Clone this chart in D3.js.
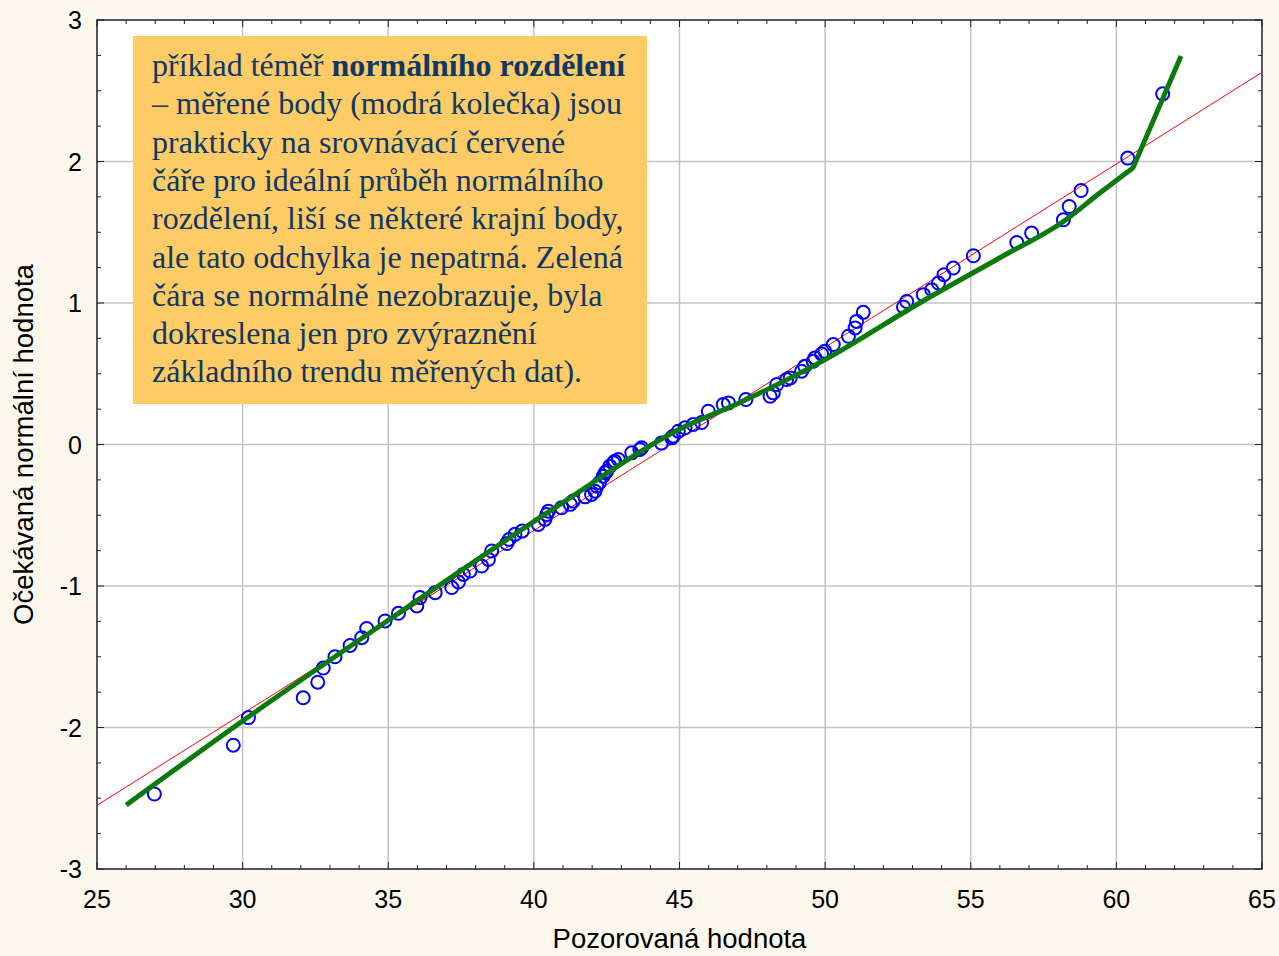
<!DOCTYPE html>
<html>
<head>
<meta charset="utf-8">
<script src="https://cdn.jsdelivr.net/npm/d3@7"></script>
<style>
  body { margin: 0; background: #fdf8ee; }
  svg { display: block; }
</style>
</head>
<body>
<svg id="viz"></svg>
<script>
const svg = d3.select("#viz");

const width = 1279, height = 956;

// measured points (observed value, expected normal value)
const obsX = [26.97, 29.68, 30.20, 32.08, 32.58, 32.77, 33.17, 33.69, 34.09, 34.26,
  34.89, 35.35, 35.98, 36.09, 36.61, 37.18, 37.41, 37.58, 37.81, 38.21,
  38.44, 38.55, 39.07, 39.15, 39.35, 39.60, 40.15, 40.38, 40.44, 40.50,
  40.95, 41.25, 41.35, 41.76, 41.98, 42.10, 42.16, 42.25, 42.38, 42.45,
  42.50, 42.61, 42.73, 42.78, 42.90, 43.36, 43.64, 43.70, 44.38, 44.73,
  44.79, 44.96, 45.19, 45.47, 45.76, 45.99, 46.50, 46.68, 47.28, 48.11,
  48.22, 48.34, 48.68, 48.80, 49.19, 49.30, 49.59, 49.65, 49.88, 49.99,
  50.28, 50.80, 51.03, 51.08, 51.31, 52.69, 52.80, 53.37, 53.66, 53.89,
  54.08, 54.40, 55.09, 56.58, 57.09, 58.18, 58.38, 58.79, 60.39, 61.59];
const expY = [-2.47, -2.125, -1.93, -1.79, -1.68, -1.58, -1.50, -1.42, -1.365, -1.30,
  -1.247, -1.193, -1.141, -1.082, -1.047, -1.011, -0.972, -0.918, -0.894, -0.859,
  -0.812, -0.753, -0.700, -0.671, -0.635, -0.612, -0.565, -0.529, -0.494, -0.471,
  -0.447, -0.423, -0.400, -0.370, -0.353, -0.330, -0.294, -0.270, -0.224, -0.200,
  -0.188, -0.153, -0.129, -0.118, -0.106, -0.059, -0.035, -0.023, 0.010, 0.047,
  0.059, 0.094, 0.118, 0.141, 0.155, 0.235, 0.282, 0.294, 0.318, 0.341,
  0.365, 0.424, 0.459, 0.470, 0.518, 0.553, 0.588, 0.612, 0.640, 0.659,
  0.706, 0.765, 0.824, 0.870, 0.934, 0.972, 1.011, 1.059, 1.094, 1.141,
  1.200, 1.247, 1.334, 1.428, 1.494, 1.588, 1.682, 1.795, 2.024, 2.478];

// red reference line (ideal normal)
const refX = [25, 65];
const refY = [-2.55, 2.63];

// green hand-drawn trend (smooth part, then the sharp upturn)
const trendX = [26.0, 30.18, 35.4, 40.9, 44.98, 47.08, 50.0, 53.26, 56.0, 58.17, 59.44, 60.57];
const trendY = [-2.548, -1.927, -1.186, -0.423, 0.106, 0.297, 0.60, 1.002, 1.32, 1.574, 1.779, 1.955];
const tailX = [60.57, 62.22];
const tailY = [1.955, 2.746];

const xTicks = [25, 30, 35, 40, 45, 50, 55, 60, 65];
const yTicks = [-3, -2, -1, 0, 1, 2, 3];

const noteLines = [
  [["příklad téměř ", false], ["normálního rozdělení", true]],
  [["– měřené body (modrá kolečka) jsou", false]],
  [["prakticky na srovnávací červené", false]],
  [["čáře pro ideální průběh normálního", false]],
  [["rozdělení, liší se některé krajní body,", false]],
  [["ale tato odchylka je nepatrná. Zelená", false]],
  [["čára se normálně nezobrazuje, byla", false]],
  [["dokreslena jen pro zvýraznění", false]],
  [["základního trendu měřených dat).", false]]
];

svg.attr("width", width).attr("height", height);

svg.append("rect")
  .attr("width", width).attr("height", height)
  .attr("fill", "#fdf8ee");

const pLeft = 97, pRight = 1262, pTop = 20, pBottom = 869;

const x = d3.scaleLinear().domain([25, 65]).range([pLeft, pRight]);
const y = d3.scaleLinear().domain([-3, 3]).range([pBottom, pTop]);

svg.append("rect")
  .attr("x", pLeft).attr("y", pTop)
  .attr("width", pRight - pLeft).attr("height", pBottom - pTop)
  .attr("fill", "#ffffff");

// grid
svg.append("g").selectAll("line")
  .data(xTicks.slice(1, -1))
  .enter().append("line")
  .attr("x1", d => x(d)).attr("x2", d => x(d))
  .attr("y1", pTop).attr("y2", pBottom)
  .attr("stroke", "#c4c4c4").attr("stroke-width", 1.5);

svg.append("g").selectAll("line")
  .data(yTicks.slice(1, -1))
  .enter().append("line")
  .attr("x1", pLeft).attr("x2", pRight)
  .attr("y1", d => y(d)).attr("y2", d => y(d))
  .attr("stroke", "#c4c4c4").attr("stroke-width", 1.5);

// ticks inside on all four sides
const xMinor = d3.range(25, 65.01, 1);
const yMinor = d3.range(-3, 3.01, 0.25);

const tickG = svg.append("g").attr("stroke", "#222").attr("stroke-width", 1);
xMinor.forEach(v => {
  const len = Number.isInteger(v / 5) ? 7 : 4;
  tickG.append("line").attr("x1", x(v)).attr("x2", x(v)).attr("y1", pBottom).attr("y2", pBottom - len);
  tickG.append("line").attr("x1", x(v)).attr("x2", x(v)).attr("y1", pTop).attr("y2", pTop + len);
});
yMinor.forEach(v => {
  const len = Number.isInteger(v) ? 7 : 4;
  tickG.append("line").attr("x1", pLeft).attr("x2", pLeft + len).attr("y1", y(v)).attr("y2", y(v));
  tickG.append("line").attr("x1", pRight).attr("x2", pRight - len).attr("y1", y(v)).attr("y2", y(v));
});

svg.append("rect")
  .attr("x", pLeft).attr("y", pTop)
  .attr("width", pRight - pLeft).attr("height", pBottom - pTop)
  .attr("fill", "none").attr("stroke", "#222").attr("stroke-width", 1.5);

// tick labels
svg.append("g").selectAll("text")
  .data(xTicks)
  .enter().append("text")
  .attr("x", d => x(d)).attr("y", 908)
  .attr("text-anchor", "middle")
  .attr("font-family", "Liberation Sans, Arial, sans-serif")
  .attr("font-size", 25)
  .text(d => d);

svg.append("g").selectAll("text")
  .data(yTicks)
  .enter().append("text")
  .attr("x", 82).attr("y", d => y(d) + 9)
  .attr("text-anchor", "end")
  .attr("font-family", "Liberation Sans, Arial, sans-serif")
  .attr("font-size", 25)
  .text(d => d);

svg.append("text")
  .attr("x", (pLeft + pRight) / 2).attr("y", 948)
  .attr("text-anchor", "middle")
  .attr("font-family", "Liberation Sans, Arial, sans-serif")
  .attr("font-size", 27.5)
  .text("Pozorovaná hodnota");

svg.append("text")
  .attr("transform", `translate(33,${(pTop + pBottom) / 2}) rotate(-90)`)
  .attr("text-anchor", "middle")
  .attr("font-family", "Liberation Sans, Arial, sans-serif")
  .attr("font-size", 27.5)
  .text("Očekávaná normální hodnota");

// plot contents
const plot = svg.append("g");

plot.append("line")
  .attr("x1", x(refX[0])).attr("y1", y(refY[0]))
  .attr("x2", x(refX[1])).attr("y2", y(refY[1]))
  .attr("stroke", "#ff0000").attr("stroke-width", 1);

plot.selectAll("circle")
  .data(obsX.map((v, i) => [v, expY[i]]))
  .enter().append("circle")
  .attr("cx", d => x(d[0])).attr("cy", d => y(d[1]))
  .attr("r", 6.5)
  .attr("fill", "none")
  .attr("stroke", "#0000ff")
  .attr("stroke-width", 2);

const smooth = d3.line().curve(d3.curveMonotoneX).x(d => x(d[0])).y(d => y(d[1]));
const straight = d3.line().x(d => x(d[0])).y(d => y(d[1]));

plot.append("path")
  .attr("d", smooth(trendX.map((v, i) => [v, trendY[i]])) +
    straight(tailX.map((v, i) => [v, tailY[i]])).replace(/^M/, "L"))
  .attr("fill", "none")
  .attr("stroke", "#0b7a0b")
  .attr("stroke-width", 5)
  .attr("stroke-linejoin", "round");

// note box
svg.append("rect")
  .attr("x", 133).attr("y", 36)
  .attr("width", 514).attr("height", 368)
  .attr("fill", "#fecb65");

const note = svg.append("text")
  .attr("font-family", "Liberation Serif, Times New Roman, serif")
  .attr("font-size", 32)
  .attr("fill", "#0f3866");

noteLines.forEach((parts, i) => {
  const line = note.append("tspan").attr("x", 152).attr("y", 76 + i * 38.3);
  parts.forEach(p => {
    line.append("tspan")
      .attr("font-weight", p[1] ? "bold" : "normal")
      .text(p[0]);
  });
});
</script>
</body>
</html>
